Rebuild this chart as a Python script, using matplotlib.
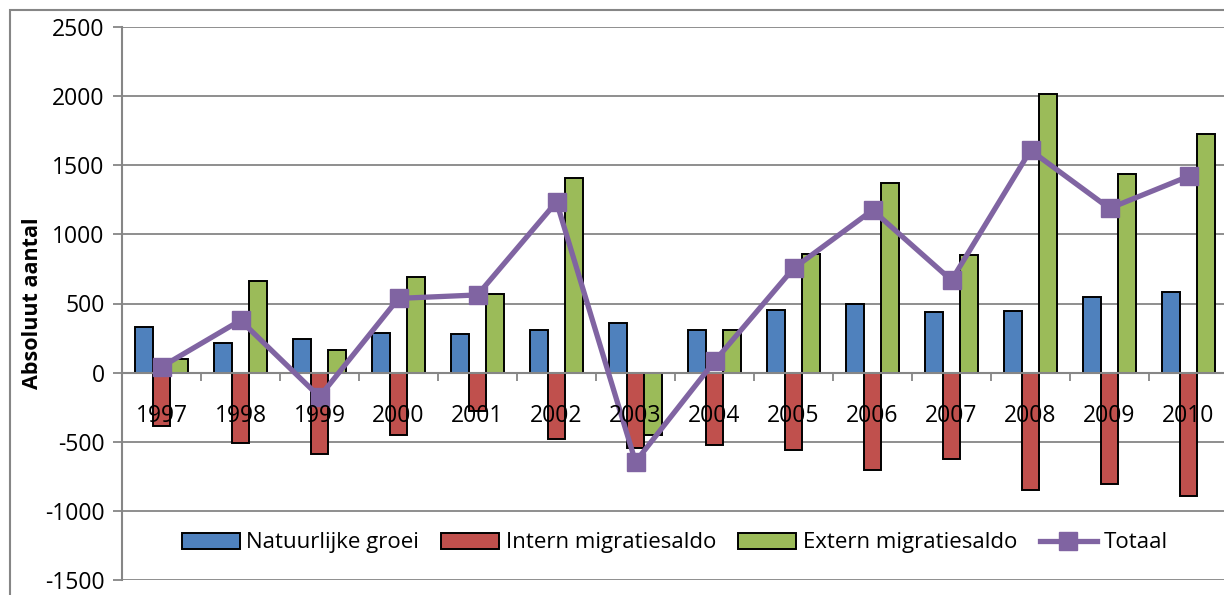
import matplotlib
matplotlib.use("Agg")
import matplotlib.pyplot as plt
from matplotlib.patches import Rectangle
import numpy as np

plt.rcParams["font.family"] = ["Open Sans", "DejaVu Sans"]
plt.rcParams["axes.unicode_minus"] = False

years = ["1997", "1998", "1999", "2000", "2001", "2002", "2003",
         "2004", "2005", "2006", "2007", "2008", "2009", "2010"]
natuurlijke_groei = [330, 217, 243, 285, 282, 308, 357, 308, 453, 496, 438, 446, 547, 585]
intern_migratiesaldo = [-383, -510, -587, -450, -277, -481, -546, -527, -561, -703, -626, -850, -802, -893]
extern_migratiesaldo = [97, 665, 166, 695, 566, 1405, -450, 308, 857, 1373, 850, 2013, 1435, 1725]
totaal = [42, 378, -175, 537, 562, 1235, -645, 82, 754, 1175, 668, 1608, 1188, 1420]

blue = "#4F81BD"
red = "#C0504D"
green = "#9BBB59"
purple = "#8064A2"
grid_gray = "#868686"

fig = plt.figure(figsize=(12.24, 5.95), dpi=100)
ax = fig.add_axes([122 / 1224, 1 - 580 / 595, 1106 / 1224, 553 / 595])

# chart area border
fig.patches.append(Rectangle((10 / 1224, -0.1), 1.2, 1 - 10 / 595 + 0.1,
                             transform=fig.transFigure, fill=False,
                             edgecolor=grid_gray, linewidth=1.5))

x = np.arange(len(years))
w = 0.225
b1 = ax.bar(x - w, natuurlijke_groei, w, color=blue, edgecolor="black", linewidth=1.4,
            label="Natuurlijke groei", zorder=2)
b2 = ax.bar(x, intern_migratiesaldo, w, color=red, edgecolor="black", linewidth=1.4,
            label="Intern migratiesaldo", zorder=2)
b3 = ax.bar(x + w, extern_migratiesaldo, w, color=green, edgecolor="black", linewidth=1.4,
            label="Extern migratiesaldo", zorder=2)
ln, = ax.plot(x, totaal, color=purple, linewidth=3.8, marker="s", markersize=13,
              label="Totaal", zorder=4)

ax.set_xlim(-0.5, len(years) - 0.5)
ax.set_ylim(-1500, 2500)
ax.set_yticks(np.arange(-1500, 2501, 500))
ax.yaxis.grid(True, color=grid_gray, linewidth=1.3, zorder=0)
ax.set_axisbelow(True)

for side in ["top", "right"]:
    ax.spines[side].set_visible(False)
ax.spines["left"].set_color(grid_gray)
ax.spines["left"].set_linewidth(1.5)
ax.spines["bottom"].set_position(("data", 0))
ax.spines["bottom"].set_color(grid_gray)
ax.spines["bottom"].set_linewidth(1.5)
ax.spines["bottom"].set_zorder(3)

ax.tick_params(axis="y", direction="out", length=6.5, width=1.3, color=grid_gray,
               labelsize=16.5, pad=6)
ax.set_xticks(np.arange(-0.5, len(years), 1.0))
ax.set_xticklabels([])
ax.tick_params(axis="x", direction="out", length=6, width=1.3, color=grid_gray)

# category labels drawn over the bars
for i, yr in enumerate(years):
    ax.annotate(yr, (i, 0), xytext=(0, -31), textcoords="offset points",
                ha="center", va="center", fontsize=16.5, zorder=5)

fig.text(33 / 1224, 1 - 303 / 595, "Absoluut aantal", rotation=90, ha="center",
         va="center", fontsize=15.5, fontweight="bold")

ax.legend([b1, b2, b3, ln],
          ["Natuurlijke groei", "Intern migratiesaldo", "Extern migratiesaldo", "Totaal"],
          loc="center", bbox_to_anchor=(0.5, 0.067), ncol=4, frameon=False,
          fontsize=16, handlelength=2.6, handleheight=0.75, handletextpad=0.3,
          columnspacing=1.0)

fig.savefig("out.png", dpi=100)
